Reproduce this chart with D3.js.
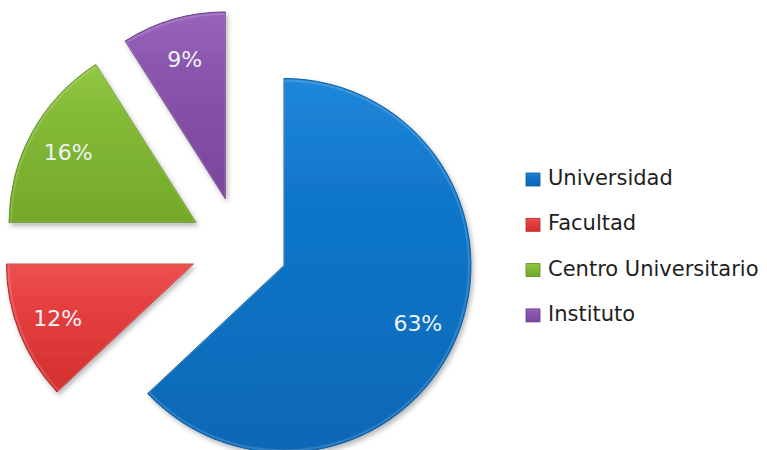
<!DOCTYPE html>
<html>
<head>
<meta charset="utf-8">
<script src="https://cdn.jsdelivr.net/npm/d3@7"></script>
<style>
  html, body { margin: 0; padding: 0; background: #fff; }
  svg { display: block; font-family: "DejaVu Sans", Verdana, sans-serif; }
</style>
</head>
<body>
<div id="chart"></div>
<script>
// data
const categories = ["Universidad", "Facultad", "Centro Universitario", "Instituto"];
const values = [63, 12, 16, 9];
const percentLabels = ["63%", "12%", "16%", "9%"];

// colors (top, mid, bottom of gradient)
const palette = [
  ["#2088da", "#1177cb", "#0a68b6"],
  ["#ee5050", "#e64040", "#d23030"],
  ["#92c744", "#84bb36", "#74a82a"],
  ["#9865bb", "#8b55ad", "#7a4599"]
];
const edge = ["#0b5c9e", "#b32828", "#628e22", "#663a86"];

const svgWidth = 767;
const svgHeight = 450;
const cx = 239, cy = 246;
const radius = 187;
const explode = 49;

const svg = d3.select("#chart").append("svg")
  .attr("width", svgWidth)
  .attr("height", svgHeight);

const defs = svg.append("defs");

palette.forEach((c, i) => {
  const g = defs.append("linearGradient")
    .attr("id", "grad" + i)
    .attr("x1", 0).attr("y1", 0).attr("x2", 0).attr("y2", 1);
  g.append("stop").attr("offset", "0%").attr("stop-color", c[0]);
  g.append("stop").attr("offset", "30%").attr("stop-color", c[1]);
  g.append("stop").attr("offset", "100%").attr("stop-color", c[2]);
});

// soft drop shadow like the office chart
const shadow = defs.append("filter")
  .attr("id", "shadow")
  .attr("x", "-20%").attr("y", "-20%").attr("width", "140%").attr("height", "140%");
shadow.append("feDropShadow")
  .attr("dx", 2).attr("dy", 3)
  .attr("stdDeviation", 2.5)
  .attr("flood-color", "#000")
  .attr("flood-opacity", 0.28);

const pie = d3.pie()
  .sort(null)
  .value(d => d);

const arc = d3.arc()
  .innerRadius(0)
  .outerRadius(radius);

const labelArc = d3.arc()
  .innerRadius(radius * 0.78)
  .outerRadius(radius * 0.78);

const arcs = pie(values);

// move every slice out along its middle angle
function offset(d) {
  const a = (d.startAngle + d.endAngle) / 2;
  return [Math.sin(a) * explode, -Math.cos(a) * explode];
}

const root = svg.append("g")
  .attr("transform", `translate(${cx},${cy})`);

const slices = root.selectAll(".slice")
  .data(arcs)
  .enter().append("g")
  .attr("class", "slice")
  .attr("transform", d => {
    const o = offset(d);
    return `translate(${o[0]},${o[1]})`;
  });

slices.append("path")
  .attr("d", arc)
  .attr("fill", (d, i) => `url(#grad${i})`)
  .attr("stroke", (d, i) => edge[i])
  .attr("stroke-width", 1)
  .attr("filter", "url(#shadow)");

// light bevel on the edge
slices.append("path")
  .attr("d", d3.arc().innerRadius(0).outerRadius(radius - 2))
  .attr("fill", "none")
  .attr("stroke", "#fff")
  .attr("stroke-opacity", 0.15)
  .attr("stroke-width", 2);

slices.append("text")
  .attr("transform", d => {
    const p = labelArc.centroid(d);
    return `translate(${p[0]},${p[1]})`;
  })
  .attr("text-anchor", "middle")
  .attr("dy", "0.36em")
  .style("font-size", "22px")
  .style("fill", "#eef3f8")
  .text((d, i) => percentLabels[i]);

// legend
const legend = svg.append("g")
  .attr("transform", "translate(526,177)");

const rows = legend.selectAll(".row")
  .data(categories)
  .enter().append("g")
  .attr("class", "row")
  .attr("transform", (d, i) => `translate(0,${i * 45.3})`);

rows.append("rect")
  .attr("x", 0)
  .attr("y", -4)
  .attr("width", 14)
  .attr("height", 13)
  .attr("fill", (d, i) => `url(#grad${i})`)
  .attr("stroke", (d, i) => edge[i])
  .attr("stroke-width", 0.8);

rows.append("text")
  .attr("x", 22)
  .attr("y", 8)
  .style("font-size", "21px")
  .style("fill", "#1e1e1e")
  .text(d => d);
</script>
</body>
</html>
